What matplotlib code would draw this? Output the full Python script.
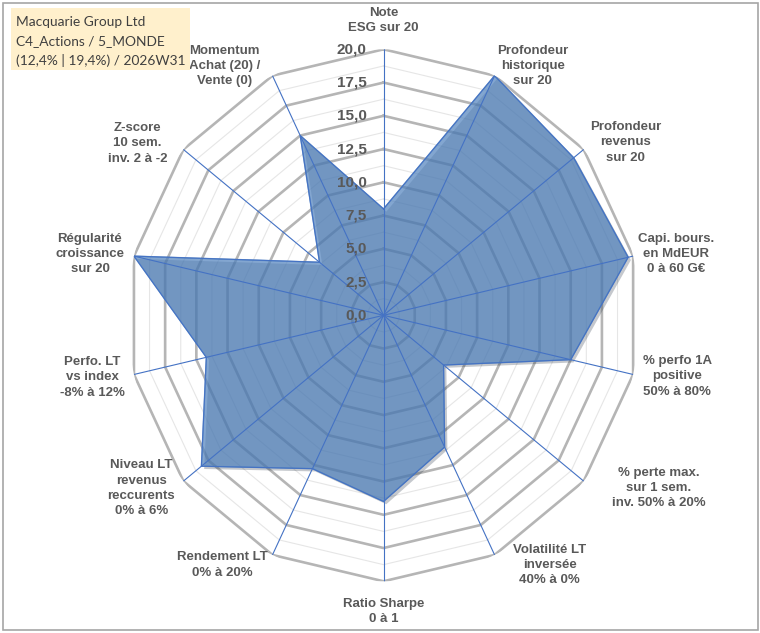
import numpy as np
import matplotlib.pyplot as plt
from matplotlib.patches import Rectangle
import matplotlib.patheffects as pe

# axis labels, clockwise from the top
labels = ['Note\nESG sur 20',
          'Profondeur\nhistorique\nsur 20',
          'Profondeur\nrevenus\nsur 20',
          'Capi. bours.\nen MdEUR\n0 à 60 G€',
          '% perfo 1A\npositive\n50% à 80%',
          '% perte max.\nsur 1 sem.\ninv. 50% à 20%',
          'Volatilité LT\ninversée\n40% à 0%',
          'Ratio Sharpe\n0 à 1',
          'Rendement LT\n0% à 20%',
          'Niveau LT\nrevenus\nreccurents\n0% à 6%',
          'Perfo. LT\nvs index\n-8% à 12%',
          'Régularité\ncroissance\nsur 20',
          'Z-score\n10 sem.\ninv. 2 à -2',
          'Momentum\nAchat (20) /\nVente (0)']
scores = [8.0, 20.0, 19.0, 19.6, 15.0, 6.0, 11.0, 14.0, 12.8, 18.2, 14.2, 20.0, 6.4, 15.0]
levels = [0.0, 2.5, 5.0, 7.5, 10.0, 12.5, 15.0, 17.5, 20.0]
title_lines = ['Macquarie Group Ltd', 'C4_Actions / 5_MONDE', '(12,4% | 19,4%) / 2026W31']

# label offsets from the outer vertex, in pixels
label_offsets = [(0, 29), (38, 10), (42, 7), (43, 2), (44, -2), (75, -7), (55, -10),
                 (0, -30), (-50, -10), (-42, -7), (-42, -3), (-44, 2), (-46, 6), (-48, 10)]

n = len(labels)
angles = np.arange(n) * 2 * np.pi / n
angles_closed = np.append(angles, angles[0])
scores_closed = np.append(scores, scores[0])

grey_txt = '#595959'
plt.rcParams['font.family'] = ['Liberation Sans', 'DejaVu Sans']

fig = plt.figure(figsize=(7.6, 6.33), dpi=100)
ax = fig.add_axes([0.1678, 0.0817, 0.6737, 0.8404], projection='polar')
ax.set_aspect('auto')
ax.set_theta_zero_location('N')
ax.set_theta_direction(-1)
ax.set_ylim(0, 20)
ax.grid(False)
ax.spines['polar'].set_visible(False)
ax.set_xticks([])
ax.set_yticks([])
ax.patch.set_visible(False)

# polygonal grid
for lv in np.arange(1.25, 20.01, 1.25):
    major = abs(lv / 2.5 - round(lv / 2.5)) < 1e-6
    ax.plot(angles_closed, [lv] * (n + 1),
            color='#B5B5B5' if major else '#E6E6E6',
            lw=1.9 if major else 0.8, zorder=1)

# data polygon
ax.fill(angles_closed, scores_closed, color='#4F81BD', alpha=0.7, zorder=2,
        path_effects=[pe.SimplePatchShadow(offset=(2, -2), alpha=0.25), pe.Normal()])
ax.plot(angles_closed, scores_closed, color='#4472C4', lw=0.8, zorder=3)

# spokes
for a in angles:
    ax.plot([a, a], [0, 20], color='#4472C4', lw=0.8, zorder=3)

# radial tick labels
for lv in levels:
    ax.annotate(f'{lv:.1f}'.replace('.', ','), xy=(0, lv), xytext=(-17, 0),
                textcoords='offset pixels', ha='right', va='center',
                fontsize=11, fontweight='bold', color=grey_txt, zorder=5)

# axis labels
for a, lab, off in zip(angles, labels, label_offsets):
    ax.annotate(lab, xy=(a, 20), xytext=off, textcoords='offset pixels',
                ha='center', va='center', multialignment='center',
                fontsize=9.5, fontweight='bold', color=grey_txt,
                linespacing=1.35, annotation_clip=False)

# title box
fig.patches.append(Rectangle((11 / 760, 1 - 70 / 633), 179 / 760, 62 / 633,
                             transform=fig.transFigure, facecolor='#FFF0CC',
                             edgecolor='none', zorder=0))
for i, line in enumerate(title_lines):
    fig.text(16 / 760, 1 - (21.5 + 19.5 * i) / 633, line, ha='left', va='center',
             fontsize=9.9, color='#404040', family=['Lato', 'DejaVu Sans'])

# chart frame
fig.patches.append(Rectangle((3 / 760, 3 / 633), 755 / 760, 627 / 633,
                             transform=fig.transFigure, facecolor='none',
                             edgecolor='#A6A6A6', lw=1.2))

fig.savefig('out.png', dpi=100)
